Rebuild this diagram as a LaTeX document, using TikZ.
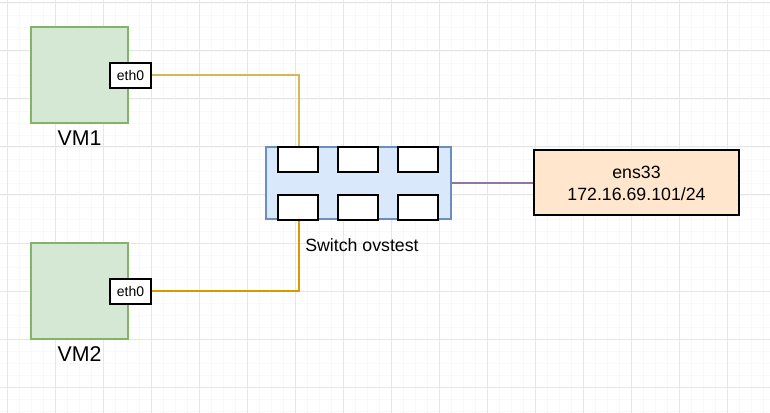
\documentclass[tikz,border=0pt]{standalone}
\usepackage{fontspec}
\setmainfont{Liberation Sans}
\usetikzlibrary{positioning}

\definecolor{vmfill}{HTML}{D5E8D4}
\definecolor{vmline}{HTML}{82B366}
\definecolor{swfill}{HTML}{DAE8FC}
\definecolor{swline}{HTML}{6C8EBF}
\definecolor{ifill}{HTML}{FFE6CC}
\definecolor{linkA}{HTML}{D6B656}
\definecolor{linkB}{HTML}{D79B00}
\definecolor{linkC}{HTML}{9673A6}
\definecolor{gridmajor}{HTML}{E6E6E6}
\definecolor{gridminor}{HTML}{F8F8F8}

\begin{document}
\begin{tikzpicture}[
    x=0.75pt, y=-0.75pt,
    vm/.style={draw=vmline, fill=vmfill, line width=1.5pt, inner sep=0pt,
               minimum width=72.75pt, minimum height=72pt},
    nic/.style={draw=black, fill=white, line width=1.5pt, inner sep=0pt,
                minimum width=30.75pt, minimum height=18.75pt, font=\fontsize{10.5}{12}\selectfont},
    vmlabel/.style={inner sep=0pt, font=\fontsize{16}{19}\selectfont},
    switchbox/.style={draw=swline, fill=swfill, line width=1.5pt, inner sep=0pt,
                      minimum width=138.75pt, minimum height=54pt},
    port/.style={draw=black, fill=white, line width=1.5pt, inner sep=0pt,
                 minimum width=30pt, minimum height=18.75pt},
    iface/.style={draw=black, fill=ifill, line width=1.5pt, inner sep=0pt, align=center,
                  minimum width=153.75pt, minimum height=48.75pt, font=\fontsize{13.3}{16.5}\selectfont},
    lbl/.style={inner sep=0pt, font=\fontsize{13.3}{16}\selectfont},
    link/.style={line width=1.5pt}
]
\useasboundingbox (0,0) rectangle (770,413);

% background grid
\foreach \x in {7,19,...,770} \draw[gridminor, line width=0.6pt] (\x,0) -- (\x,413);
\foreach \y in {3,15,...,413} \draw[gridminor, line width=0.6pt] (0,\y) -- (770,\y);
\foreach \x in {7,55,...,770} \draw[gridmajor, line width=0.75pt] (\x,0) -- (\x,413);
\foreach \y in {3,51,...,413} \draw[gridmajor, line width=0.75pt] (0,\y) -- (770,\y);

% virtual machines
\node[vm] (vm1) at (79.5,75.5) {};
\node[nic] (nic1) at ([xshift=1.1pt]vm1.east) {eth0};
\node[vmlabel, below=4.5pt of vm1] (vm1label) {VM1};

\node[vm] (vm2) at (79.5,291) {};
\node[nic] (nic2) at ([xshift=1.1pt]vm2.east) {eth0};
\node[vmlabel, below=4.5pt of vm2] (vm2label) {VM2};

% switch with its ports
\node[switchbox] (switch) at (358.5,183) {};
\foreach \i/\x in {1/298,2/358,3/418} {
    \node[port] (top\i) at (\x,159.5) {};
    \node[port] (bot\i) at (\x,207.5) {};
}
\node[lbl, anchor=west] (swlabel) at (305,245) {Switch ovstest};

% host interface
\node[iface] (ens) at (636.5,183) {ens33\\172.16.69.101/24};

% links
\draw[link, linkA] (nic1.east) -| ([xshift=0.75pt]top1.north);
\draw[link, linkB] (nic2.east) -| ([xshift=0.75pt]bot1.south);
\draw[link, linkC] (switch.east) -- (switch.east -| ens.west);
\end{tikzpicture}
\end{document}
